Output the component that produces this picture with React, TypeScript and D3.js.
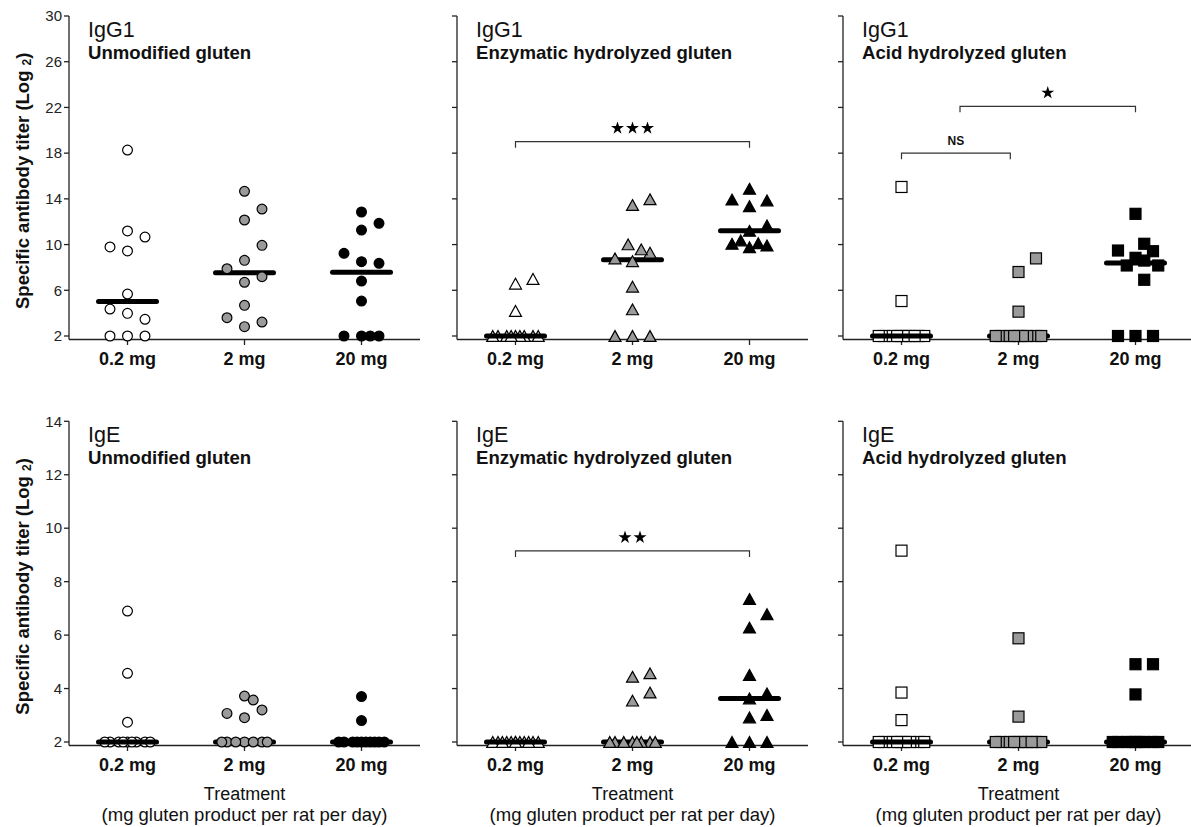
import React from "react";
import * as d3 from "d3";

// ---------- data ----------
const doses = ["0.2 mg", "2 mg", "20 mg"];
const products = ["Unmodified gluten", "Enzymatic hydrolyzed gluten", "Acid hydrolyzed gluten"];
const isotypes = ["IgG1", "IgE"];
const igG1Ticks = [2, 6, 10, 14, 18, 22, 26, 30];
const igETicks = [2, 4, 6, 8, 10, 12, 14];

// IgG1 – titers (log2) per rat, per dose
const igG1Unmodified02 = [18.27, 11.19, 10.66, 9.44, 9.79, 5.67, 3.98, 3.46, 4.36, 2, 2, 2];
const igG1Unmodified2 = [14.66, 12.15, 13.11, 8.62, 9.93, 6.7, 7.19, 7.89, 4.68, 2.82, 3.22, 3.6];
const igG1Unmodified20 = [12.85, 11.86, 11.27, 8.5, 8.36, 9.23, 6.81, 5.06, 2, 2, 2, 2];
const igG1Enzymatic02 = [6.58, 6.99, 4.19, 2, 2, 2, 2, 2, 2, 2, 2, 2];
const igG1Enzymatic2 = [13.46, 13.96, 8.55, 9.29, 8.79, 9.58, 10.02, 6.32, 4.33, 2, 2, 2];
const igG1Enzymatic20 = [13.36, 13.86, 13.94, 14.88, 11.2, 11.67, 9.77, 9.92, 10.07, 10.12, 10.36];
const igG1Acid02 = [15.04, 5.06, 2, 2, 2, 2, 2, 2, 2, 2, 2, 2];
const igG1Acid2 = [7.6, 8.79, 4.13, 2, 2, 2, 2, 2, 2, 2, 2, 2];
const igG1Acid20 = [12.69, 8.84, 9.42, 9.48, 10.07, 8.6, 8.17, 8.17, 6.92, 2, 2, 2];

// IgE
const igEUnmodified02 = [6.9, 4.57, 2.74, 2, 2, 2, 2, 2, 2, 2, 2, 2];
const igEUnmodified2 = [3.72, 2.91, 3.2, 3.07, 3.57, 2, 2, 2, 2, 2, 2, 2];
const igEUnmodified20 = [3.7, 2.8, 2, 2, 2, 2, 2, 2, 2, 2, 2, 2];
const igEEnzymatic02 = [2, 2, 2, 2, 2, 2, 2, 2, 2, 2, 2, 2];
const igEEnzymatic2 = [3.55, 3.85, 4.44, 4.57, 2, 2, 2, 2, 2, 2, 2, 2];
const igEEnzymatic20 = [7.35, 6.78, 6.28, 4.51, 3.63, 3.82, 2.92, 3.01, 2, 2, 2];
const igEAcid02 = [9.16, 3.85, 2.82, 2, 2, 2, 2, 2, 2, 2, 2, 2];
const igEAcid2 = [5.88, 2.95, 2, 2, 2, 2, 2, 2, 2, 2, 2, 2];
const igEAcid20 = [4.91, 4.91, 3.78, 2, 2, 2, 2, 2, 2, 2, 2, 2];

// significance brackets (category units, titer value)
type Bracket = { from: number; to: number; value: number; stars?: number; text?: string };
const igG1Brackets: Bracket[][] = [
  [],
  [{ from: 0, to: 2, value: 19, stars: 3 }],
  [
    { from: 0, to: 0.93, value: 18, text: "NS" },
    { from: 0.5, to: 2, value: 22.1, stars: 1 },
  ],
];
const igEBrackets: Bracket[][] = [[], [{ from: 0, to: 2, value: 9.15, stars: 2 }], []];

const yTitle = "Specific antibody titer (Log ";
const xTitle1 = "Treatment";
const xTitle2 = "(mg gluten product per rat per day)";

// ---------- layout / style ----------
const W = 1191;
const H = 827;
const FONT = "'Liberation Sans', Arial, Helvetica, sans-serif";
const colX0 = [69, 457, 843];
const panelW = 351;
const STEP = 17.5;
const DY = 16;
const fills = ["#ffffff", "#9a9a9a", "#000000"];
const shapes = ["circle", "triangle", "square"];
const CANDIDATES = [0, 1, -1, 0.5, -0.5, 1.3, -1.3, 0.25, -0.25, 0.75, -0.75];

function spread(values: number[], y: (v: number) => number): number[] {
  const placed: { slot: number; py: number }[] = [];
  return values.map((v) => {
    const py = y(v);
    let best = 0;
    let bestScore = -1;
    for (const c of CANDIDATES) {
      const near = placed.filter((p) => Math.abs(p.py - py) < DY && Math.abs(p.slot - c) < 0.999);
      if (near.length === 0) {
        best = c;
        bestScore = Infinity;
        break;
      }
      const score = d3.min(near, (p) => Math.abs(p.slot - c)) as number;
      if (score > bestScore) {
        bestScore = score;
        best = c;
      }
    }
    placed.push({ slot: best, py });
    return best;
  });
}

function Marker({ shape, x, y, fill }: { shape: string; x: number; y: number; fill: string }) {
  const common = { fill, stroke: "#000", strokeWidth: 1.2 };
  if (shape === "circle") return <circle cx={x} cy={y} r={4.9} {...common} />;
  if (shape === "square") return <rect x={x - 5.5} y={y - 5.5} width={11} height={11} {...common} />;
  const w = 12;
  const h = 10.8;
  return <path d={`M${x},${y - h / 2}L${x + w / 2},${y + h / 2}L${x - w / 2},${y + h / 2}Z`} {...common} />;
}

function StarRow({ n, cx, cy }: { n: number; cx: number; cy: number }) {
  const star = d3.symbol(d3.symbolStar, 52)() as string;
  const gap = 15;
  return (
    <g>
      {d3.range(n).map((i) => (
        <path key={i} d={star} transform={`translate(${cx + (i - (n - 1) / 2) * gap},${cy})`} fill="#000" />
      ))}
    </g>
  );
}

export default function App() {
  const rows = [
    {
      isotype: isotypes[0],
      ticks: igG1Ticks,
      domain: [2, 30],
      range: [336, 16],
      groups: [
        [igG1Unmodified02, igG1Unmodified2, igG1Unmodified20],
        [igG1Enzymatic02, igG1Enzymatic2, igG1Enzymatic20],
        [igG1Acid02, igG1Acid2, igG1Acid20],
      ],
      brackets: igG1Brackets,
      xTitle: false,
    },
    {
      isotype: isotypes[1],
      ticks: igETicks,
      domain: [2, 14],
      range: [742, 421.3],
      groups: [
        [igEUnmodified02, igEUnmodified2, igEUnmodified20],
        [igEEnzymatic02, igEEnzymatic2, igEEnzymatic20],
        [igEAcid02, igEAcid2, igEAcid20],
      ],
      brackets: igEBrackets,
      xTitle: true,
    },
  ];

  return (
    <svg
      width={W}
      height={H}
      viewBox={`0 0 ${W} ${H}`}
      style={{ position: "absolute", left: 0, top: 0, background: "#fff" }}
      fontFamily={FONT}
    >
      {rows.map((row, ri) => {
        const y = d3.scaleLinear().domain(row.domain).range(row.range);
        const axisY = y(row.domain[0]) + 3.5;
        const topY = y(row.domain[1]);
        return (
          <g key={ri}>
            {/* y-axis title */}
            <text
              transform={`translate(22,${(topY + axisY) / 2 + 3}) rotate(-90)`}
              textAnchor="middle"
              dominantBaseline="central"
              fontWeight="bold"
              fontSize={18.5}
              fill="#111"
            >
              {yTitle}
              <tspan fontSize={12} dy={5}>
                2
              </tspan>
              <tspan dy={-5}>)</tspan>
            </text>
            {products.map((prod, ci) => {
              const x0 = colX0[ci];
              const x = d3.scalePoint<string>().domain(doses).range([x0, x0 + panelW]).padding(0.5);
              const catX = (u: number) => (x(doses[0]) as number) + u * x.step();
              const shape = shapes[ci];
              return (
                <g key={ci}>
                  {/* axes */}
                  <line x1={x0} x2={x0} y1={topY} y2={axisY} stroke="#222" strokeWidth={1.3} />
                  <line x1={x0} x2={x0 + panelW} y1={axisY} y2={axisY} stroke="#222" strokeWidth={1.3} />
                  {row.ticks.map((t) => (
                    <g key={t}>
                      <line x1={x0 - 5} x2={x0} y1={y(t)} y2={y(t)} stroke="#222" strokeWidth={1.3} />
                      {ci === 0 && (
                        <text x={x0 - 7} y={y(t)} dy="0.35em" textAnchor="end" fontSize={15} fill="#222">
                          {t}
                        </text>
                      )}
                    </g>
                  ))}
                  {doses.map((d) => (
                    <g key={d}>
                      <line x1={x(d)} x2={x(d)} y1={axisY} y2={axisY + 5.5} stroke="#222" strokeWidth={1.3} />
                      <text x={x(d)} y={axisY + 25} textAnchor="middle" fontSize={18} fontWeight="bold" fill="#111">
                        {d}
                      </text>
                    </g>
                  ))}
                  {/* titles */}
                  <text x={x0 + 19} y={topY + 21} fontSize={21.5} fill="#111">
                    {row.isotype}
                  </text>
                  <text x={x0 + 19} y={topY + 43} fontSize={18.6} fontWeight="bold" fill="#111">
                    {prod}
                  </text>
                  {/* brackets */}
                  {row.brackets[ci].map((b, bi) => {
                    const bx1 = catX(b.from);
                    const bx2 = catX(b.to);
                    const by = y(b.value);
                    const cx = (bx1 + bx2) / 2;
                    return (
                      <g key={bi}>
                        <path
                          d={`M${bx1},${by + 6}V${by}H${bx2}V${by + 6}`}
                          fill="none"
                          stroke="#333"
                          strokeWidth={1.2}
                        />
                        {b.stars ? (
                          <StarRow n={b.stars} cx={cx} cy={by - 13.5} />
                        ) : (
                          <text x={cx} y={by - 8} textAnchor="middle" fontSize={12} fontWeight="bold" fill="#111">
                            {b.text}
                          </text>
                        )}
                      </g>
                    );
                  })}
                  {/* data */}
                  {row.groups[ci].map((vals, gi) => {
                    const cx = x(doses[gi]) as number;
                    const slots = spread(vals, y);
                    const med = d3.median(vals) as number;
                    const medLine = (
                      <line
                        x1={cx - 29}
                        x2={cx + 29}
                        y1={y(med)}
                        y2={y(med)}
                        stroke="#000"
                        strokeWidth={5}
                        strokeLinecap="round"
                      />
                    );
                    const markers = vals.map((v, i) => (
                      <Marker key={i} shape={shape} x={cx + slots[i] * STEP} y={y(v)} fill={fills[gi]} />
                    ));
                    return (
                      <g key={gi}>
                        {gi === 0 ? (
                          <>
                            {markers}
                            {medLine}
                          </>
                        ) : (
                          <>
                            {medLine}
                            {markers}
                          </>
                        )}
                      </g>
                    );
                  })}
                  {row.xTitle && (
                    <g>
                      <text x={x(doses[1])} y={800} textAnchor="middle" fontSize={18} fill="#111">
                        {xTitle1}
                      </text>
                      <text x={x(doses[1])} y={821} textAnchor="middle" fontSize={18.5} fill="#111">
                        {xTitle2}
                      </text>
                    </g>
                  )}
                </g>
              );
            })}
          </g>
        );
      })}
    </svg>
  );
}
